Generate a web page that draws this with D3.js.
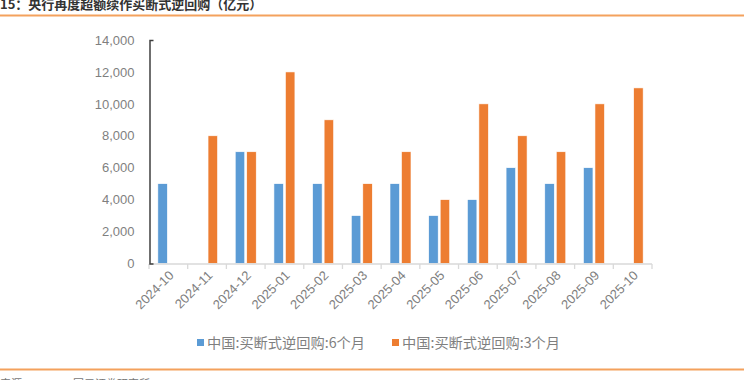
<!DOCTYPE html>
<html>
<head>
<meta charset="utf-8">
<script src="https://cdn.jsdelivr.net/npm/d3@7"></script>
<style>
  body { margin: 0; background: #fff; }
  svg { display: block; font-family: "Liberation Sans", Arial, sans-serif; }
</style>
</head>
<body>
<svg id="chart"></svg>
<script>
// months on the x axis
const months = ['2024-10', '2024-11', '2024-12', '2025-01', '2025-02', '2025-03', '2025-04',
                '2025-05', '2025-06', '2025-07', '2025-08', '2025-09', '2025-10']
// 亿元, null = no operation that month
const sixMonth = [5000, null, 7000, 5000, 5000, 3000, 5000, 3000, 4000, 6000, 5000, 6000, null]
const threeMonth = [null, 8000, 7000, 12000, 9000, 5000, 7000, 4000, 10000, 8000, 7000, 10000, 11000]
const yTicks = [0, 2000, 4000, 6000, 8000, 10000, 12000, 14000]
const seriesNames = ['中国:买断式逆回购:6个月', '中国:买断式逆回购:3个月']
const colors = ['#5B9BD5', '#ED7D31']

let width = 744
let height = 380
let cjk = '"Noto Sans CJK SC", "Liberation Sans", sans-serif'

let svg = d3.select('#chart')
    .attr('width', width)
    .attr('height', height)

// title (cut off at the top of the crop) + orange rule
svg.append('text')
    .attr('x', 0)
    .attr('y', 9)
    .attr('font-family', cjk)
    .attr('font-size', 13)
    .attr('font-weight', 'bold')
    .attr('fill', '#333')
    .text('15：央行再度超额续作买断式逆回购（亿元）')
svg.append('line')
    .attr('x1', 0).attr('x2', width)
    .attr('y1', 15.5).attr('y2', 15.5)
    .attr('stroke', '#F4A15D')
    .attr('stroke-width', 2)

let x = d3.scaleBand()
    .domain(months)
    .range([149, 652])
let xInner = d3.scaleBand()
    .domain([0, 1])
    .range([0, x.bandwidth()])
    .paddingInner(0.174)
    .paddingOuter(0.77)
let y = d3.scaleLinear()
    .domain([0, 14000])
    .range([263.5, 40])

// bars
let rows = months.map((m, i) => ({ m: m, vals: [sixMonth[i], threeMonth[i]] }))
let groups = svg.append('g').attr('class', 'bars')
    .selectAll('g')
    .data(rows)
    .join('g')
    .attr('transform', d => `translate(${x(d.m)},0)`)
groups.selectAll('rect')
    .data(d => d.vals.map((v, k) => ({ v: v, k: k })).filter(d => d.v != null))
    .join('rect')
    .attr('x', d => xInner(d.k))
    .attr('width', xInner.bandwidth())
    .attr('y', d => y(d.v))
    .attr('height', d => y(0) - y(d.v))
    .attr('fill', d => colors[d.k])
    .attr('stroke', '#fff')
    .attr('stroke-width', 0.6)

// x axis
let xAxis = svg.append('g')
    .attr('transform', `translate(0,${y(0) + 0.5})`)
xAxis.append('line')
    .attr('x1', x.range()[0]).attr('x2', x.range()[1])
    .attr('stroke', '#D9D9D9')
    .attr('stroke-width', 1.3)
xAxis.selectAll('line.tick')
    .data(months.concat(['end']))
    .join('line')
    .attr('class', 'tick')
    .attr('x1', d => d == 'end' ? x.range()[1] : x(d))
    .attr('x2', d => d == 'end' ? x.range()[1] : x(d))
    .attr('y1', 0).attr('y2', 5)
    .attr('stroke', '#D9D9D9')
    .attr('stroke-width', 1.3)
xAxis.selectAll('text')
    .data(months)
    .join('text')
    .attr('transform', d => `translate(${x(d) + x.bandwidth() / 2 + 3},${9}) rotate(-45)`)
    .attr('text-anchor', 'end')
    .attr('dy', '0.35em')
    .attr('font-size', 13)
    .attr('fill', '#7F7F7F')
    .text(d => d)

// y axis
let yAxis = svg.append('g')
    .attr('transform', `translate(149.5,0)`)
    .call(d3.axisLeft(y)
        .tickValues(yTicks)
        .tickFormat(d3.format(','))
        .tickSizeInner(0)
        .tickSizeOuter(-4)
        .tickPadding(15))
yAxis.select('.domain')
    .attr('stroke', '#404040')
    .attr('stroke-width', 1.5)
yAxis.selectAll('text')
    .attr('font-size', 13)
    .attr('font-family', '"Liberation Sans", Arial, sans-serif')
    .attr('fill', '#7F7F7F')

// legend
let legendX = [197, 392]
let legend = svg.append('g')
    .selectAll('g')
    .data(seriesNames)
    .join('g')
    .attr('transform', (d, i) => `translate(${legendX[i]},343)`)
legend.append('rect')
    .attr('x', 0).attr('y', -4)
    .attr('width', 7).attr('height', 7)
    .attr('fill', (d, i) => colors[i])
legend.append('text')
    .attr('x', 10)
    .attr('dy', '0.35em')
    .attr('font-family', cjk)
    .attr('font-size', 14)
    .attr('textLength', 158)
    .attr('lengthAdjust', 'spacingAndGlyphs')
    .attr('fill', '#7F7F7F')
    .text(d => d)

// bottom rule + source line (mostly cut off)
svg.append('line')
    .attr('x1', 0).attr('x2', width)
    .attr('y1', 369.5).attr('y2', 369.5)
    .attr('stroke', '#F4A15D')
    .attr('stroke-width', 2)
svg.append('text')
    .attr('x', 0).attr('y', 388)
    .attr('font-family', cjk)
    .attr('font-size', 11)
    .attr('fill', '#777')
    .text('来源：')
svg.append('text')
    .attr('x', 73).attr('y', 388)
    .attr('font-family', cjk)
    .attr('font-size', 11)
    .attr('fill', '#777')
    .text('国元证券研究所')
</script>
</body>
</html>
